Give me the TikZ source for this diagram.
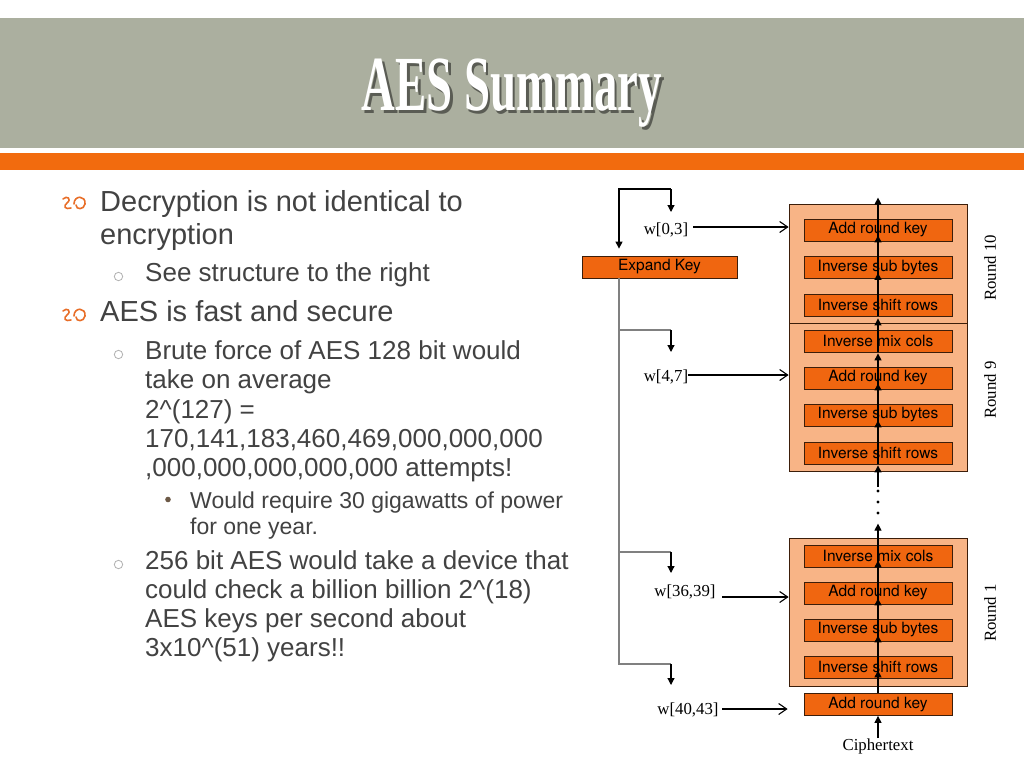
\documentclass[tikz,border=0pt]{standalone}
\usepackage{fontspec}
\setmainfont{Liberation Sans}
\newfontfamily\serifl{Liberation Serif}
\newfontfamily\boxfont{TeX Gyre Heros}
\usetikzlibrary{arrows.meta}
\definecolor{band}{RGB}{171,175,159}
\definecolor{obar}{RGB}{242,107,14}
\definecolor{txt}{RGB}{66,66,66}
\definecolor{outfill}{RGB}{248,180,134}
\definecolor{infill}{RGB}{240,102,16}
\definecolor{boxline}{RGB}{60,30,10}
\definecolor{glyph}{RGB}{232,110,40}
\definecolor{tshadow}{RGB}{90,92,84}
\begin{document}
\begin{tikzpicture}[x=1pt,y=-1pt,
  body1/.style={anchor=base west, inner sep=0pt, text=txt, font=\fontsize{29}{34}\selectfont},
  body2/.style={anchor=base west, inner sep=0pt, text=txt, font=\fontsize{26}{30}\selectfont},
  body3/.style={anchor=base west, inner sep=0pt, text=txt, font=\fontsize{23}{26}\selectfont},
  outbox/.style={draw=boxline, line width=0.8pt, fill=outfill, minimum width=178pt, inner sep=0pt},
  inbox/.style={draw=boxline, line width=0.8pt, fill=infill, minimum width=148pt, minimum height=22pt, inner sep=0pt},
  intext/.style={inner sep=0pt, text=black, font=\boxfont\fontsize{15.5}{17}\selectfont},
  wlabel/.style={inner sep=0pt, text=black, font=\serifl\fontsize{16.8}{18}\selectfont},
  rlabel/.style={inner sep=0pt, text=black, rotate=90, font=\serifl\fontsize{16.8}{18}\selectfont},
  uparr/.style={draw=black, line width=1.1pt, -{Triangle[length=7pt,width=7pt]}},
  warr/.style={draw=black, line width=1.1pt, -{Straight Barb[length=8pt,width=11pt]}},
  gline/.style={draw=black!50, line width=1.6pt},
  kline/.style={draw=black, line width=1.2pt},
  glyphline/.style={draw=glyph, line width=1.6pt, line cap=round}
]
\useasboundingbox (0,0) rectangle (1024,768);
\fill[white] (0,0) rectangle (1024,768);
\fill[band] (0,18) rectangle (1024,148);
\fill[obar] (0,153) rectangle (1024,170);

% level-1 bullet glyphs
\foreach \yy in {203,315}{
  \draw[glyphline] (63,\yy-4) .. controls (67,\yy-8) and (72,\yy-4) .. (67,\yy) .. controls (63,\yy+3) and (65,\yy+7) .. (71,\yy+5);
  \draw[glyphline] (74,\yy+1) .. controls (74,\yy-8) and (86,\yy-8) .. (85,\yy+1) .. controls (84,\yy+7) and (76,\yy+7) .. (76,\yy+2);
}
% level-2 bullets
\foreach \yy in {276.5,354.5,564.5}{
  \draw[black!30, line width=0.8pt] (118.5,\yy) circle (4.2);
}
% level-3 bullet
\fill[black!50!brown!60!gray] (168,499.5) circle (2.8);

% body text
\node[body1] (t1) at (100,211) {Decryption is not identical to};
\node[body1] (t2) at (100,244) {encryption};
\node[body2] (t3) at (145,281) {See structure to the right};
\node[body1] (t4) at (100,321) {AES is fast and secure};
\node[body2] (t5) at (145,359) {Brute force of AES 128 bit would};
\node[body2] (t6) at (145,388) {take on average};
\node[body2] (t7) at (145,418) {2\^{}(127) =};
\node[body2] (t8) at (145,447) {170,141,183,460,469,000,000,000};
\node[body2] (t9) at (145,476) {,000,000,000,000,000 attempts!};
\node[body3] (t10) at (190,508) {Would require 30 gigawatts of power};
\node[body3] (t11) at (190,534) {for one year.};
\node[body2] (t12) at (145,569) {256 bit AES would take a device that};
\node[body2] (t13) at (145,598) {could check a billion billion 2\^{}(18)};
\node[body2] (t14) at (145,627) {AES keys per second about};
\node[body2] (t15) at (145,656) {3x10\^{}(51) years!!};

% outer round boxes
\node[outbox, minimum height=119pt] (r10) at (878,263.5) {};
\node[outbox, minimum height=148pt] (r9) at (878,397) {};
\node[outbox, minimum height=148pt] (r1) at (878,612) {};

% inner boxes
\node[inbox] (r10ark) at (878,230) {};
\node[inbox] (r10isb) at (878,267.5) {};
\node[inbox] (r10isr) at (878,305) {};
\node[inbox] (r9imc) at (878,341) {};
\node[inbox] (r9ark) at (878,378) {};
\node[inbox] (r9isb) at (878,415) {};
\node[inbox] (r9isr) at (878,453) {};
\node[inbox] (r1imc) at (878,556) {};
\node[inbox] (r1ark) at (878,593) {};
\node[inbox] (r1isb) at (878,630) {};
\node[inbox] (r1isr) at (878,667) {};
\node[inbox] (fark) at (878,704.5) {};
\node[inbox, minimum width=155pt] (ek) at (659.5,267) {};

% inner box texts
\node[intext] (tr10ark) at (r10ark) {Add round key};
\node[intext] (tr10isb) at (r10isb) {Inverse sub bytes};
\node[intext] (tr10isr) at (r10isr) {Inverse shift rows};
\node[intext] (tr9imc) at (r9imc) {Inverse mix cols};
\node[intext] (tr9ark) at (r9ark) {Add round key};
\node[intext] (tr9isb) at (r9isb) {Inverse sub bytes};
\node[intext] (tr9isr) at (r9isr) {Inverse shift rows};
\node[intext] (tr1imc) at (r1imc) {Inverse mix cols};
\node[intext] (tr1ark) at (r1ark) {Add round key};
\node[intext] (tr1isb) at (r1isb) {Inverse sub bytes};
\node[intext] (tr1isr) at (r1isr) {Inverse shift rows};
\node[intext] (tfark) at (fark) {Add round key};
\node[intext] (tek) at (ek) {Expand Key};

% labels
\node[wlabel] (ciph) at (878,746) {Ciphertext};
\node[rlabel] (lr10) at (990,268) {Round 10};
\node[rlabel] (lr9) at (990,390) {Round 9};
\node[rlabel] (lr1) at (990,613) {Round 1};
\node[wlabel] (w03) at (666,230) {w[0,3]};
\node[wlabel] (w47) at (666,377) {w[4,7]};
\node[wlabel] (w3639) at (685,592) {w[36,39]};
\node[wlabel] (w4043) at (688,710) {w[40,43]};

% central data path
\draw[uparr] (ciph.north) -- (fark.south);
\draw[uparr] (fark.north) -- ([yshift=8pt]r1isr.south);
\draw[uparr] (r1isr.south) -- ([yshift=6pt]r1isb.south);
\draw[uparr] (r1isb.south) -- ([yshift=6pt]r1ark.south);
\draw[uparr] (r1ark.south) -- ([yshift=7pt]r1imc.south);
\draw[uparr] (r1imc.south) -- ([yshift=14pt]r1.north);
\foreach \yy in {491,502,513} \fill (878,\yy) circle (1.6);
\coordinate (dl) at (878,487);
\draw[uparr] (dl) -- ([yshift=-1pt]r9isr.south);
\draw[uparr] (r9isr.south) -- ([yshift=6pt]r9isb.south);
\draw[uparr] (r9isb.south) -- ([yshift=6pt]r9ark.south);
\draw[uparr] (r9ark.south) -- ([yshift=-1pt]r9imc.south);
\draw[uparr] (r9imc.south) -- ([yshift=-2pt]r10isr.south);
\draw[uparr] (r10isr.south) -- ([yshift=6pt]r10isb.south);
\draw[uparr] (r10isb.south) -- ([yshift=6pt]r10ark.south);
\draw[uparr] (r10ark.south) -- ([yshift=6pt]r10.north);

% key schedule lines
\coordinate (kt1) at (619,189);
\coordinate (kt2) at (671,189);
\coordinate (kd0) at (671,212);
\draw[kline, -{Triangle[length=7pt,width=7pt]}] (kt2) -- (kt1) -- ([yshift=7pt]ek.north -| kt1);
\draw[kline, -{Triangle[length=7pt,width=7pt]}] (kt2) -- (kd0);
\coordinate (g0) at (619,278);
\coordinate (b1) at (619,330);
\coordinate (b2) at (619,552);
\coordinate (b3) at (619,664);
\coordinate (c1) at (671,330);
\coordinate (c2) at (671,552);
\coordinate (c3) at (671,664);
\coordinate (d1) at (671,352);
\coordinate (d2) at (671,573);
\coordinate (d3) at (671,685);
\draw[gline] (g0) -- (b3) -- (c3);
\draw[gline] (b1) -- (c1);
\draw[gline] (b2) -- (c2);
\draw[kline, -{Triangle[length=7pt,width=7pt]}] (c1) -- (d1);
\draw[kline, -{Triangle[length=7pt,width=7pt]}] (c2) -- (d2);
\draw[kline, -{Triangle[length=7pt,width=7pt]}] (c3) -- (d3);

% round-key arrows
\coordinate (a1) at (693,227);
\coordinate (a2) at (688,375);
\coordinate (a3) at (722,597);
\coordinate (a4) at (722,709);
\draw[warr] (a1) -- (r10.west |- a1);
\draw[warr] (a2) -- (r9.west |- a2);
\draw[warr] (a3) -- (r1.west |- a3);
\draw[warr] (a4) -- ([xshift=-1pt]r1.west |- a4);

% title with drop shadow
\node[anchor=base, inner sep=0pt, text=white, xscale=0.6] (title) at (512,110)
  {\serifl\bfseries\fontsize{78}{80}\selectfont\rlap{\hspace{4pt}\raisebox{-3pt}{\color{tshadow}AES Summary}}AES Summary};
\end{tikzpicture}
\end{document}
